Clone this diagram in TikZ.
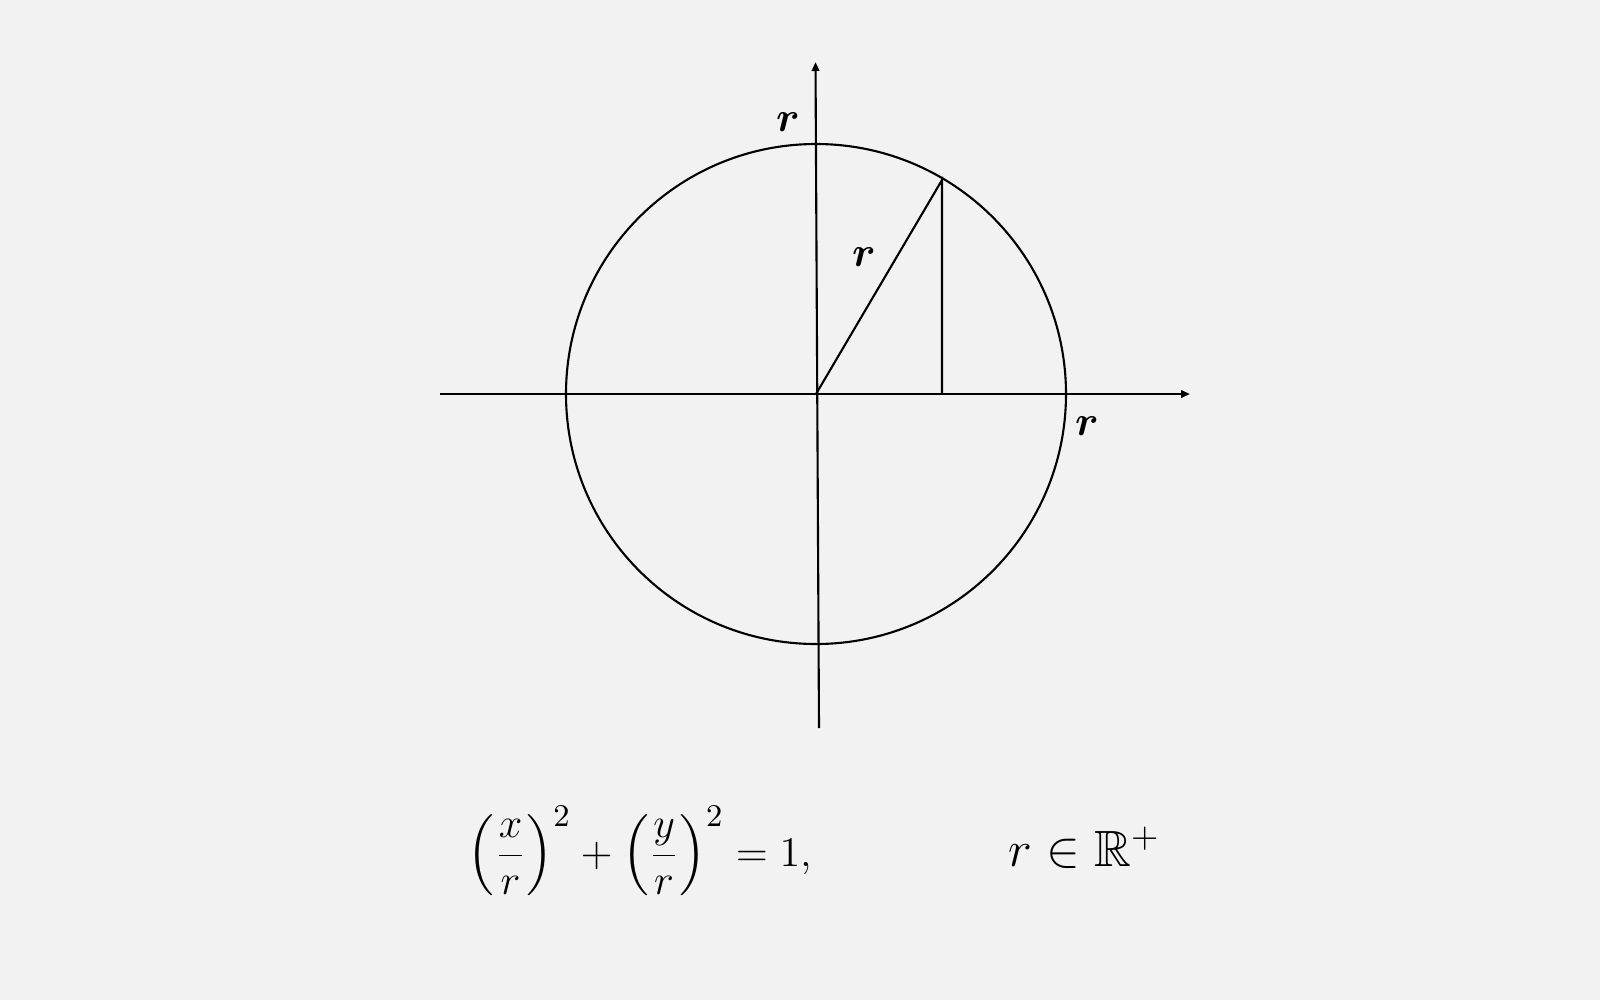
\documentclass[tikz,border=0pt]{standalone}
\usepackage{amsmath,amssymb,bm}
\usetikzlibrary{arrows.meta,calc}
\definecolor{bgc}{HTML}{F2F2F2}
\tikzset{
  axis/.style={line width=0.6pt,-{Triangle[length=0.9mm,width=0.75mm]}},
  geo/.style={line width=0.6pt},
  rlab/.style={inner sep=0pt,font=\fontsize{12.5}{15}\selectfont},
  formula/.style={inner sep=0pt,anchor=base west,font=\fontsize{12.8}{16}\selectfont}
}
\begin{document}
\begin{tikzpicture}[x=0.1mm,y=-0.1mm]
\fill[bgc] (0,0) rectangle (1600,1000);
\useasboundingbox (0,0) rectangle (1600,1000);
\coordinate (O) at (816,394);
\coordinate (xl) at (440,394);
\coordinate (xr) at (1190,394);
\coordinate (yb) at (819,728);
\coordinate (yt) at (815.5,62);
\coordinate (P) at ($(O)+(126,-214)$);
\coordinate (F) at (P |- O);
\draw[geo] (O) circle [radius=25mm];
\draw[axis] (xl) -- (xr);
\draw[axis] (yb) -- (yt);
\draw[geo] (O) -- (P) -- (F);
\node[rlab] (rt) at (788,122) {$\bm{r}$};
\node[rlab] (rr) at (1087,426) {$\bm{r}$};
\node[rlab] (rm) at (864,257) {$\bm{r}$};
\node[formula] (eq) at (467,866) {$\displaystyle \left(\frac{x}{r}\right)^{2}+\left(\frac{y}{r}\right)^{2}=1,$};
\node[formula,font=\fontsize{14.5}{17}\selectfont] (dom) at (1008,866) {$r\in\mathbb{R}^{+}$};
\end{tikzpicture}
\end{document}
